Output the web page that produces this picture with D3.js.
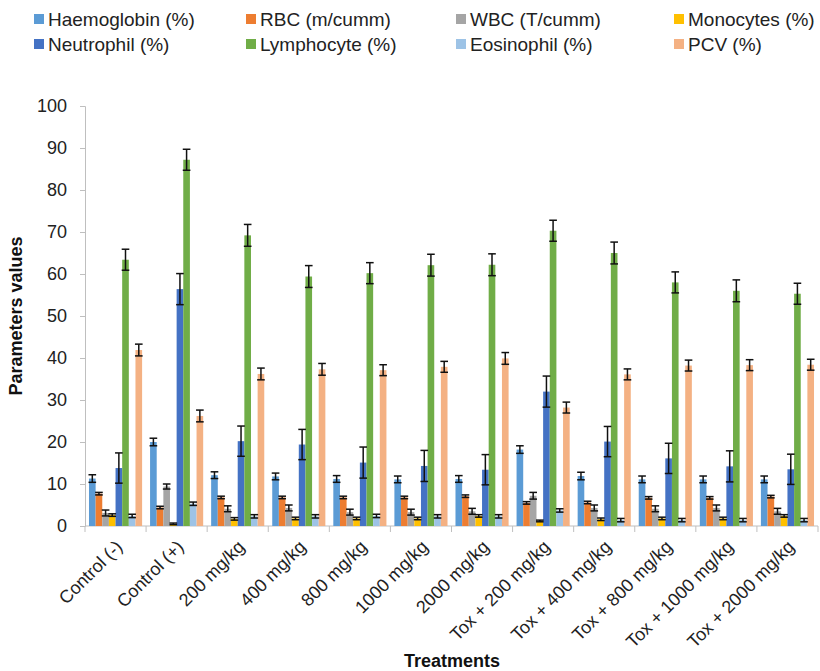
<!DOCTYPE html>
<html>
<head>
<meta charset="utf-8">
<script src="https://cdn.jsdelivr.net/npm/d3@7"></script>
<style>
  body { margin: 0; background: #fff; }
  svg { font-family: "Liberation Sans", Arial, sans-serif; }
</style>
</head>
<body>
<div id="chart"></div>
<script>
// treatment groups on the x axis
const treatments = ["Control (-)", "Control (+)", "200 mg/kg", "400 mg/kg", "800 mg/kg", "1000 mg/kg",
  "2000 mg/kg", "Tox + 200 mg/kg", "Tox + 400 mg/kg", "Tox + 800 mg/kg", "Tox + 1000 mg/kg", "Tox + 2000 mg/kg"]

const seriesNames = ["Haemoglobin (%)", "RBC (m/cumm)", "WBC (T/cumm)", "Monocytes (%)",
  "Neutrophil (%)", "Lymphocyte (%)", "Eosinophil (%)", "PCV (%)"]
const seriesColors = ["#5B9BD5", "#ED7D31", "#A5A5A5", "#FFC000", "#4472C4", "#70AD47", "#9DC3E6", "#F4B183"]

// mean values, one array per parameter
const haemoglobin = [11.3, 20.0, 12.1, 11.8, 11.2, 11.1, 11.2, 18.2, 11.9, 11.1, 11.1, 11.1]
const rbc         = [7.7, 4.4, 6.8, 6.8, 6.8, 6.8, 7.1, 5.5, 5.6, 6.7, 6.7, 7.0]
const wbc         = [3.1, 9.4, 4.1, 4.3, 3.3, 3.3, 3.5, 7.2, 4.3, 4.1, 4.3, 3.5]
const monocytes   = [2.6, 0.5, 1.7, 1.8, 1.8, 1.8, 2.4, 1.2, 1.6, 1.8, 1.8, 2.4]
const neutrophil  = [13.8, 56.4, 20.2, 19.4, 15.1, 14.3, 13.4, 32.0, 20.1, 16.1, 14.2, 13.5]
const lymphocyte  = [63.4, 87.2, 69.2, 59.4, 60.2, 62.1, 62.2, 70.3, 65.0, 58.0, 56.0, 55.3]
const eosinophil  = [2.4, 5.3, 2.3, 2.3, 2.4, 2.3, 2.3, 3.7, 1.4, 1.4, 1.4, 1.4]
const pcv         = [41.9, 26.2, 36.2, 37.3, 37.1, 37.9, 39.9, 28.2, 36.1, 38.2, 38.3, 38.4]

// error bar half-widths
const errHaemoglobin = [0.9, 0.9, 0.8, 0.8, 0.8, 0.8, 0.8, 0.9, 0.9, 0.8, 0.8, 0.8]
const errRbc         = [0.3, 0.3, 0.3, 0.3, 0.3, 0.3, 0.3, 0.3, 0.3, 0.3, 0.3, 0.3]
const errWbc         = [0.7, 0.6, 0.7, 0.7, 0.7, 0.7, 0.7, 0.8, 0.7, 0.7, 0.7, 0.7]
const errMonocytes   = [0.3, 0.2, 0.3, 0.3, 0.3, 0.3, 0.3, 0.2, 0.3, 0.3, 0.3, 0.3]
const errNeutrophil  = [3.6, 3.7, 3.6, 3.6, 3.7, 3.7, 3.6, 3.7, 3.6, 3.6, 3.7, 3.6]
const errLymphocyte  = [2.5, 2.5, 2.6, 2.6, 2.5, 2.6, 2.6, 2.5, 2.6, 2.5, 2.6, 2.5]
const errEosinophil  = [0.4, 0.4, 0.4, 0.4, 0.4, 0.4, 0.4, 0.4, 0.4, 0.4, 0.4, 0.4]
const errPcv         = [1.4, 1.4, 1.4, 1.4, 1.3, 1.3, 1.4, 1.3, 1.3, 1.3, 1.3, 1.3]

const yTicks = [0, 10, 20, 30, 40, 50, 60, 70, 80, 90, 100]

const means = [haemoglobin, rbc, wbc, monocytes, neutrophil, lymphocyte, eosinophil, pcv]
const errors = [errHaemoglobin, errRbc, errWbc, errMonocytes, errNeutrophil, errLymphocyte, errEosinophil, errPcv]

// flat table: one row per bar
const rows = []
treatments.forEach((t, gi) => {
  seriesNames.forEach((s, si) => {
    rows.push({ treatment: t, series: s, value: means[si][gi], err: errors[si][gi] })
  })
})

const width = 820, height = 671
const margin = { top: 106, right: 2, bottom: 145, left: 85 }

const svg = d3.select("#chart").append("svg")
  .attr("width", width)
  .attr("height", height)

const x0 = d3.scaleBand()
  .domain(treatments)
  .range([margin.left, width - margin.right])
  .paddingInner(0)
  .paddingOuter(0)

const x1 = d3.scaleBand()
  .domain(seriesNames)
  .range([0, x0.bandwidth()])
  .paddingOuter(0.6)
  .paddingInner(0)

const y = d3.scaleLinear()
  .domain([0, 100])
  .range([height - margin.bottom, margin.top])

const color = d3.scaleOrdinal().domain(seriesNames).range(seriesColors)

// y axis
const yAxis = svg.append("g")
  .attr("transform", "translate(" + margin.left + ",0)")
  .call(d3.axisLeft(y).tickValues(yTicks).tickSize(5).tickPadding(13))
yAxis.selectAll("text").attr("font-size", 18).attr("fill", "#222")
yAxis.selectAll("line, path").attr("stroke", "#bfbfbf")

// x axis with ticks between groups
const xAxis = svg.append("g")
  .attr("transform", "translate(0," + y(0) + ")")
xAxis.append("line")
  .attr("x1", margin.left).attr("x2", width - margin.right)
  .attr("stroke", "#bfbfbf")
xAxis.selectAll(".divider")
  .data(treatments.concat(["end"]))
  .enter().append("line")
  .attr("class", "divider")
  .attr("x1", (d, i) => margin.left + i * x0.bandwidth())
  .attr("x2", (d, i) => margin.left + i * x0.bandwidth())
  .attr("y1", 0).attr("y2", 6)
  .attr("stroke", "#bfbfbf")

xAxis.selectAll(".cat")
  .data(treatments)
  .enter().append("text")
  .attr("class", "cat")
  .attr("font-size", 18)
  .attr("fill", "#222")
  .attr("text-anchor", "end")
  .attr("transform", d => "translate(" + (x0(d) + x0.bandwidth() / 2 + 8) + ",22) rotate(-45)")
  .text(d => d)

// bars
const groups = svg.selectAll(".group")
  .data(treatments)
  .enter().append("g")
  .attr("class", "group")
  .attr("transform", d => "translate(" + x0(d) + ",0)")

groups.selectAll(".bar")
  .data(t => rows.filter(r => r.treatment === t))
  .enter().append("rect")
  .attr("class", "bar")
  .attr("x", d => x1(d.series))
  .attr("width", x1.bandwidth())
  .attr("y", d => y(d.value))
  .attr("height", d => y(0) - y(d.value))
  .attr("fill", d => color(d.series))

// error bars
const eb = groups.selectAll(".err")
  .data(t => rows.filter(r => r.treatment === t))
  .enter().append("g")
  .attr("class", "err")
  .attr("stroke", "#111")
  .attr("stroke-width", 1.5)

eb.append("line")
  .attr("x1", d => x1(d.series) + x1.bandwidth() / 2)
  .attr("x2", d => x1(d.series) + x1.bandwidth() / 2)
  .attr("y1", d => y(d.value - d.err))
  .attr("y2", d => y(d.value + d.err))
eb.append("line")
  .attr("x1", d => x1(d.series) - 0.5)
  .attr("x2", d => x1(d.series) + x1.bandwidth() + 0.5)
  .attr("y1", d => y(d.value + d.err))
  .attr("y2", d => y(d.value + d.err))
eb.append("line")
  .attr("x1", d => x1(d.series) - 0.5)
  .attr("x2", d => x1(d.series) + x1.bandwidth() + 0.5)
  .attr("y1", d => y(d.value - d.err))
  .attr("y2", d => y(d.value - d.err))

// axis titles
svg.append("text")
  .attr("x", 452).attr("y", 667)
  .attr("text-anchor", "middle")
  .attr("font-size", 18)
  .attr("font-weight", "bold")
  .attr("fill", "#111")
  .text("Treatments")

svg.append("text")
  .attr("transform", "translate(22," + (y(50)) + ") rotate(-90)")
  .attr("text-anchor", "middle")
  .attr("font-size", 18)
  .attr("font-weight", "bold")
  .attr("fill", "#111")
  .text("Parameters values")

// legend, 4 columns x 2 rows
const legendX = [34, 246, 456, 674]
const legendY = [19, 44]
const legend = svg.selectAll(".legend")
  .data(seriesNames)
  .enter().append("g")
  .attr("class", "legend")
  .attr("transform", (d, i) => "translate(" + legendX[i % 4] + "," + legendY[Math.floor(i / 4)] + ")")

legend.append("rect")
  .attr("x", 0).attr("y", -5)
  .attr("width", 10).attr("height", 10)
  .attr("fill", d => color(d))

legend.append("text")
  .attr("x", 14).attr("y", 6.5)
  .attr("font-size", 19)
  .attr("fill", "#222")
  .text(d => d)
</script>
</body>
</html>
